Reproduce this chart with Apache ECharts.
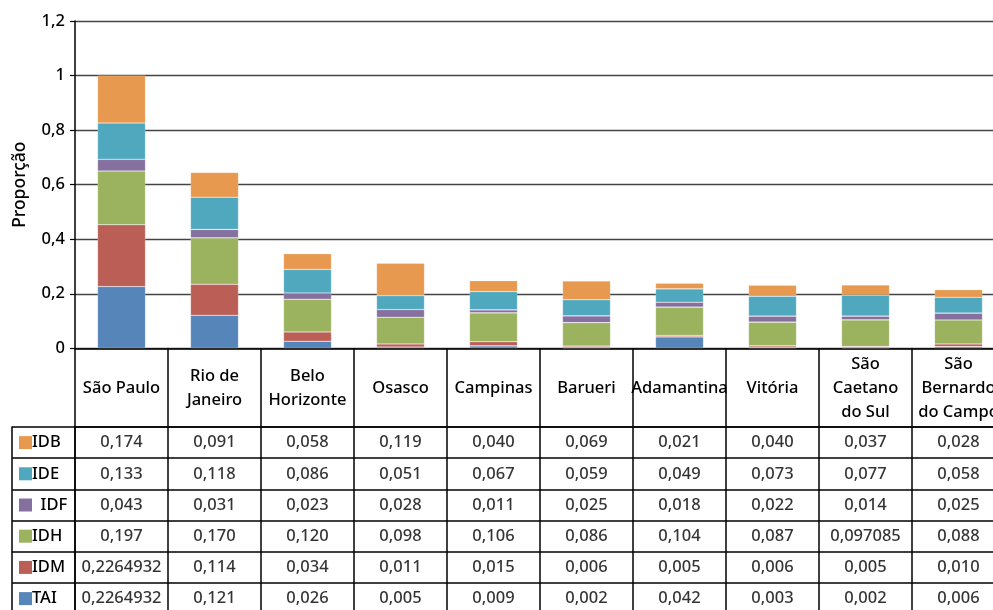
<!DOCTYPE html>
<html>
<head>
<meta charset="utf-8">
<script src="https://cdn.jsdelivr.net/npm/echarts@6/dist/echarts.min.js"></script>
<style>html,body{margin:0;padding:0;background:#fff}#c{width:993px;height:610px}</style>
</head>
<body>
<div id="c"></div>
<script>
const categories = ['São Paulo','Rio de\nJaneiro','Belo\nHorizonte','Osasco','Campinas','Barueri','Adamantina','Vitória','São\nCaetano\ndo Sul','São\nBernardo\ndo Campo'];
const IDB = [0.174,0.091,0.058,0.119,0.040,0.069,0.021,0.040,0.037,0.028];
const IDE = [0.133,0.118,0.086,0.051,0.067,0.059,0.049,0.073,0.077,0.058];
const IDF = [0.043,0.031,0.023,0.028,0.011,0.025,0.018,0.022,0.014,0.025];
const IDH = [0.197,0.170,0.120,0.098,0.106,0.086,0.104,0.087,0.097085,0.088];
const IDM = [0.2264932,0.114,0.034,0.011,0.015,0.006,0.005,0.006,0.005,0.010];
const TAI = [0.2264932,0.121,0.026,0.005,0.009,0.002,0.042,0.003,0.002,0.006];
const tableRows = ['IDB','IDE','IDF','IDH','IDM','TAI'];
const yTicks = [0,0.2,0.4,0.6,0.8,1,1.2];

const seriesValues = {IDB, IDE, IDF, IDH, IDM, TAI};
const colors = {IDB:'#E6994F', IDE:'#4FA8BE', IDF:'#8670A0', IDH:'#9BB25F', IDM:'#BA5E56', TAI:'#5585B9'};
const stackOrder = ['TAI','IDM','IDH','IDF','IDE','IDB'];
const FONT = 'Noto Sans';
const FS = 16.5;
const FW = 500;

function fmt(v){
  const s = String(v);
  const dec = s.indexOf('.') >= 0 ? s.split('.')[1].length : 0;
  return v.toFixed(Math.max(3, dec)).replace('.', ',');
}

const lineCol = '#000';
const rich = {t:{fontFamily:FONT,fontSize:FS,fontWeight:FW,color:'#000',verticalAlign:'middle'}};
tableRows.forEach(r => { rich['s'+r] = {width:13,height:13,backgroundColor:colors[r],verticalAlign:'middle'}; });

const barSeries = stackOrder.map(name => ({
  name, type:'bar', stack:'all', xAxisIndex:0, yAxisIndex:0,
  barWidth:48,
  itemStyle:{color:colors[name], borderColor:'rgba(255,255,255,0.35)', borderWidth:0.6},
  data: seriesValues[name]
}));

const cellData = [];
tableRows.forEach((r, ri) => {
  seriesValues[r].forEach((v, ci) => {
    cellData.push({value:[ci, r], txt: fmt(v)});
  });
});

const chart = echarts.init(document.getElementById('c'), null, {renderer:'canvas'});
chart.setOption({
  animation:false,
  textStyle:{fontFamily:FONT},
  grid:[
    {left:75, top:21, width:930, height:327.3, outerBoundsMode:'none', containLabel:false},
    {left:75, top:427, width:930, height:187.2, outerBoundsMode:'none', containLabel:false}
  ],
  xAxis:[
    {type:'category', gridIndex:0, data:categories,
     axisLine:{show:true, lineStyle:{color:lineCol, width:1.5}},
     axisTick:{show:true, inside:false, length:78, lineStyle:{color:lineCol, width:1.5}},
     axisLabel:{interval:0, margin:40, verticalAlign:'middle', fontFamily:FONT, fontSize:FS, fontWeight:FW, color:'#000', lineHeight:24, hideOverlap:false},
     splitLine:{show:false}},
    {type:'category', gridIndex:1, data:categories, position:'top',
     axisLine:{show:true, lineStyle:{color:lineCol, width:1.5}},
     axisTick:{show:false}, axisLabel:{show:false},
     splitLine:{show:true, interval:0, lineStyle:{color:lineCol, width:1.5}}}
  ],
  yAxis:[
    {type:'value', gridIndex:0, min:yTicks[0], max:yTicks[yTicks.length-1], interval:0.2,
     name:'Proporção', nameLocation:'middle', nameRotate:90, nameGap:46,
     nameTextStyle:{fontFamily:FONT, fontSize:17.5, fontWeight:FW, color:'#000'},
     axisLine:{show:true, lineStyle:{color:lineCol, width:1.5}},
     axisTick:{show:true, length:5, lineStyle:{color:lineCol, width:1.2}},
     axisLabel:{margin:10, fontFamily:FONT, fontSize:FS, fontWeight:FW, color:'#000',
       formatter: v => String(+v.toFixed(1)).replace('.', ',')},
     splitLine:{show:true, lineStyle:{color:'#444', width:1.3}}},
    {type:'category', gridIndex:1, data:tableRows, inverse:true,
     axisLine:{show:true, lineStyle:{color:lineCol, width:1.5}},
     axisTick:{show:true, inside:false, length:63, lineStyle:{color:lineCol, width:1.5}},
     axisLabel:{interval:0, margin:56, align:'left',
       formatter: v => '{s'+v+'|}{t|'+(v==='IDF'?'  ':'')+v+'}', rich},
     splitLine:{show:true, interval:0, lineStyle:{color:lineCol, width:1.5}}},
    {type:'category', gridIndex:1, data:tableRows, inverse:true, offset:63, position:'left',
     axisLine:{show:true, lineStyle:{color:lineCol, width:1.5}},
     axisTick:{show:false}, axisLabel:{show:false}, splitLine:{show:false}}
  ],
  series: barSeries.concat([{
    type:'scatter', xAxisIndex:1, yAxisIndex:1, symbolSize:0,
    label:{show:true, position:'inside', fontFamily:FONT, fontSize:FS, fontWeight:FW, color:'#000',
      formatter: p => p.data.txt},
    labelLayout:{hideOverlap:false},
    data: cellData
  }])
});
</script>
</body>
</html>
